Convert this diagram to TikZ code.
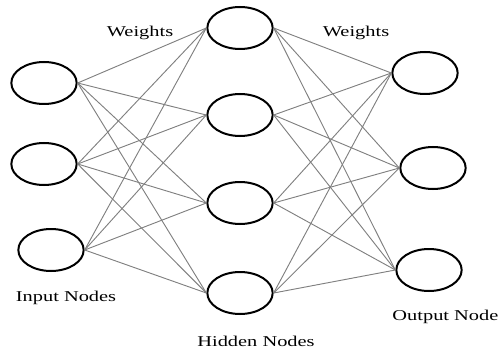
\documentclass[tikz,border=0pt]{standalone}
\usepackage{fontspec}
\setmainfont{Liberation Serif}[FakeStretch=1.36]
\usetikzlibrary{shapes.geometric}

\begin{document}
\begin{tikzpicture}[x=0.75pt,y=-0.75pt,line width=0.7pt,unit/.style={draw,ellipse,line width=1.5pt,minimum width=49pt,minimum height=31.5pt,inner sep=0pt},lab/.style={font=\fontsize{11.25}{13}\selectfont,inner sep=0pt}]
\useasboundingbox (0,0) rectangle (499,349);
\node[unit] (i1) at (44,83){};
\node[unit] (i2) at (44,164){};
\node[unit] (i3) at (51,250){};
\foreach \j/\y in {1/28,2/115,3/203,4/293}{\node[unit] (h\j) at (240,\y){};};
\node[unit] (o1) at (425,73){};
\node[unit] (o2) at (433,168){};
\node[unit] (o3) at (429,270){};
\foreach \i in {1,2,3}{\foreach \j in {1,2,3,4}{\draw[color=gray] (i\i.east) -- (h\j.west);};};
\foreach \j in {1,2,3,4}{\foreach \k in {1,2,3}{\draw[color=gray] (h\j.east) -- (o\k.west);};};
\node[lab] (w1) at (140,33){Weights};
\node[lab] (w2) at (356,33){Weights};
\node[lab] (in) at (66,298){Input Nodes};
\node[lab] (hid) at (256,341){Hidden Nodes};
\node[lab,anchor=west] (out) at (392,317){Output Node};
\end{tikzpicture}
\end{document}
